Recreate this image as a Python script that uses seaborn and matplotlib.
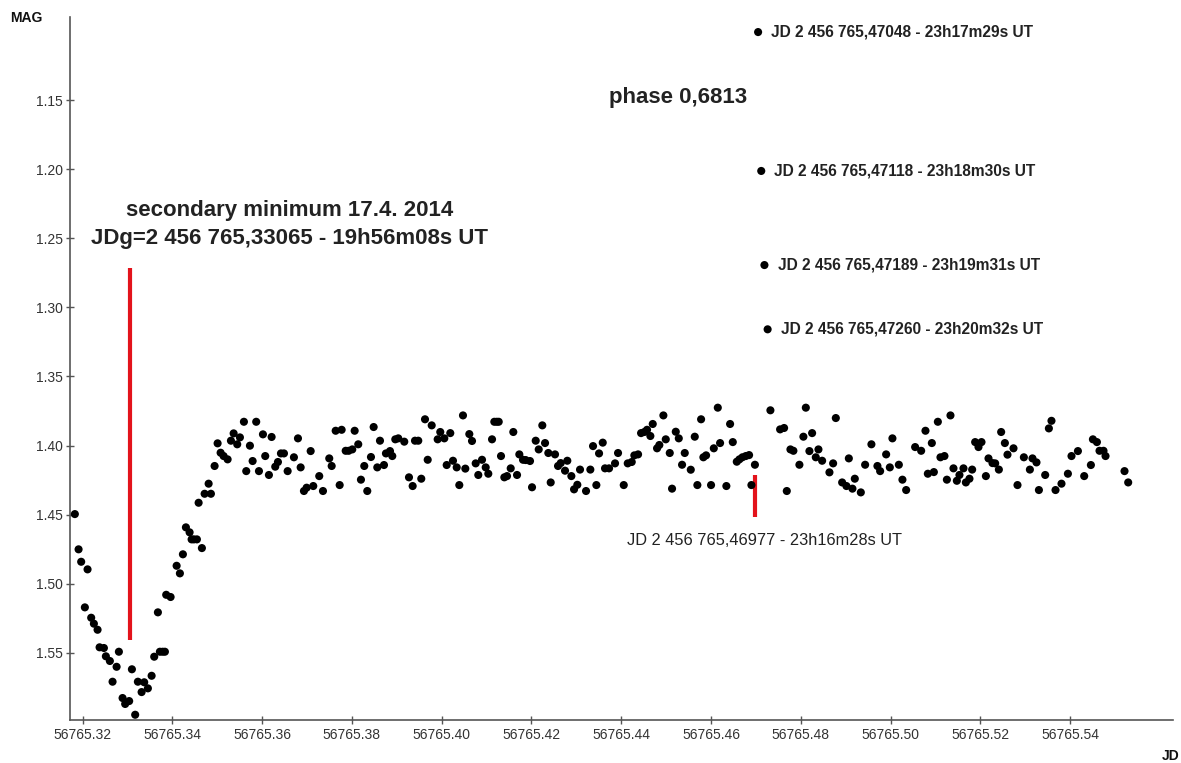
import numpy as np
import pandas as pd
import matplotlib
matplotlib.use("Agg")
import matplotlib.pyplot as plt
from matplotlib.ticker import FormatStrFormatter
import seaborn as sns

# ---- observations: Julian date (MJD) and magnitude ----
JD0 = 56765.0
jd_frac = [
    0.31828, 0.31911, 0.31969, 0.32051, 0.32111, 0.32192, 0.32252, 0.32334, 0.32379, 0.32475,
    0.32519, 0.32608, 0.32668, 0.32758, 0.32809, 0.32891, 0.32949, 0.33038, 0.33099, 0.33172,
    0.33232, 0.33315, 0.33373, 0.33455, 0.33538, 0.33596, 0.33678, 0.33722, 0.33783, 0.33834,
    0.33863, 0.33961, 0.34095, 0.34168, 0.34235, 0.34302, 0.34384, 0.34429, 0.34480, 0.34547,
    0.34585, 0.34658, 0.34719, 0.34808, 0.34859, 0.34941, 0.35008, 0.35075, 0.35142, 0.35231,
    0.35305, 0.35365, 0.35445, 0.35505, 0.35594, 0.35646, 0.35728, 0.35788, 0.35868, 0.35929,
    0.36018, 0.36069, 0.36151, 0.36211, 0.36292, 0.36352, 0.36419, 0.36486, 0.36568, 0.36708,
    0.36798, 0.36858, 0.36931, 0.36991, 0.37081, 0.37139, 0.37272, 0.37355, 0.37495, 0.37549,
    0.37638, 0.37727, 0.37771, 0.37861, 0.37927, 0.38008, 0.38061, 0.38141, 0.38201, 0.38275,
    0.38342, 0.38424, 0.38484, 0.38565, 0.38625, 0.38714, 0.38758, 0.38848, 0.38899, 0.38966,
    0.39033, 0.39166, 0.39271, 0.39353, 0.39405, 0.39478, 0.39545, 0.39628, 0.39688, 0.39777,
    0.39910, 0.39968, 0.40058, 0.40111, 0.40191, 0.40251, 0.40334, 0.40392, 0.40474, 0.40526,
    0.40615, 0.40675, 0.40757, 0.40815, 0.40898, 0.40980, 0.41038, 0.41121, 0.41172, 0.41225,
    0.41270, 0.41321, 0.41395, 0.41455, 0.41537, 0.41595, 0.41678, 0.41729, 0.41811, 0.41871,
    0.41967, 0.42012, 0.42094, 0.42161, 0.42241, 0.42302, 0.42375, 0.42428, 0.42524, 0.42591,
    0.42651, 0.42747, 0.42798, 0.42888, 0.42948, 0.43021, 0.43081, 0.43215, 0.43311, 0.43371,
    0.43445, 0.43505, 0.43587, 0.43638, 0.43728, 0.43861, 0.43928, 0.44055, 0.44144, 0.44233,
    0.44291, 0.44374, 0.44441, 0.44514, 0.44574, 0.44648, 0.44701, 0.44797, 0.44848, 0.44938,
    0.44991, 0.45080, 0.45131, 0.45214, 0.45281, 0.45354, 0.45414, 0.45548, 0.45637, 0.45695,
    0.45778, 0.45829, 0.45889, 0.46000, 0.46061, 0.46150, 0.46201, 0.46341, 0.46424, 0.46484,
    0.46573, 0.46631, 0.46698, 0.46774, 0.46847, 0.46899, 0.46977, 0.47048, 0.47118, 0.47189,
    0.47260, 0.47322, 0.47538, 0.47627, 0.47687, 0.47768, 0.47834, 0.47968, 0.48057, 0.48111,
    0.48191, 0.48251, 0.48333, 0.48392, 0.48474, 0.48637, 0.48719, 0.48779, 0.48920, 0.49016,
    0.49069, 0.49149, 0.49202, 0.49336, 0.49432, 0.49572, 0.49706, 0.49766, 0.49900, 0.49982,
    0.50040, 0.50183, 0.50263, 0.50346, 0.50546, 0.50680, 0.50776, 0.50829, 0.50918, 0.50963,
    0.51052, 0.51110, 0.51199, 0.51253, 0.51333, 0.51400, 0.51475, 0.51533, 0.51623, 0.51676,
    0.51756, 0.51816, 0.51883, 0.51957, 0.52024, 0.52122, 0.52180, 0.52269, 0.52329, 0.52411,
    0.52462, 0.52545, 0.52603, 0.52737, 0.52826, 0.52968, 0.53102, 0.53160, 0.53249, 0.53303,
    0.53443, 0.53525, 0.53583, 0.53673, 0.53806, 0.53949, 0.54029, 0.54172, 0.54312, 0.54461,
    0.54506, 0.54595, 0.54653, 0.54742, 0.54787, 0.55210, 0.55292,
]
mag = [
    1.4496, 1.4751, 1.4841, 1.5171, 1.4896, 1.5246, 1.5289, 1.5333, 1.5460, 1.5465,
    1.5525, 1.5559, 1.5709, 1.5601, 1.5492, 1.5827, 1.5870, 1.5849, 1.5619, 1.5948,
    1.5709, 1.5784, 1.5713, 1.5757, 1.5666, 1.5528, 1.5207, 1.5492, 1.5492, 1.5492,
    1.5080, 1.5096, 1.4870, 1.4925, 1.4787, 1.4592, 1.4628, 1.4679, 1.4679, 1.4679,
    1.4414, 1.4742, 1.4349, 1.4276, 1.4349, 1.4148, 1.3984, 1.4052, 1.4076, 1.4100,
    1.3965, 1.3912, 1.3991, 1.3941, 1.3828, 1.4185, 1.4001, 1.4112, 1.3828, 1.4185,
    1.3919, 1.4076, 1.4213, 1.3938, 1.4153, 1.4119, 1.4057, 1.4057, 1.4185, 1.4085,
    1.3948, 1.4158, 1.4329, 1.4305, 1.4040, 1.4293, 1.4221, 1.4329, 1.4093, 1.4148,
    1.3893, 1.4286, 1.3886, 1.4038, 1.4038, 1.4028, 1.3893, 1.3991, 1.4247, 1.4148,
    1.4329, 1.4083, 1.3866, 1.4158, 1.3965, 1.4141, 1.4057, 1.4040, 1.4076, 1.3955,
    1.3948, 1.3972, 1.4230, 1.4293, 1.3965, 1.3965, 1.4240, 1.3810, 1.4103, 1.3854,
    1.3955, 1.3902, 1.3948, 1.4141, 1.3910, 1.4110, 1.4158, 1.4286, 1.3782, 1.4167,
    1.3917, 1.3967, 1.4129, 1.4213, 1.4103, 1.4158, 1.4204, 1.3955, 1.3828, 1.3828,
    1.3828, 1.4076, 1.4230, 1.4221, 1.4165, 1.3902, 1.4213, 1.4064, 1.4103, 1.4105,
    1.4112, 1.4302, 1.3965, 1.4028, 1.3854, 1.3982, 1.4054, 1.4267, 1.4064, 1.4148,
    1.4127, 1.4182, 1.4110, 1.4221, 1.4317, 1.4284, 1.4174, 1.4329, 1.4174, 1.4004,
    1.4286, 1.4057, 1.3979, 1.4165, 1.4165, 1.4129, 1.4054, 1.4286, 1.4129, 1.4119,
    1.4071, 1.4064, 1.3910, 1.3902, 1.3886, 1.3931, 1.3844, 1.4020, 1.3996, 1.3782,
    1.3955, 1.4054, 1.4312, 1.3900, 1.3948, 1.4139, 1.4054, 1.4175, 1.3936, 1.4286,
    1.3810, 1.4085, 1.4071, 1.4286, 1.4020, 1.3726, 1.3982, 1.4293, 1.3844, 1.3975,
    1.4117, 1.4100, 1.4085, 1.4076, 1.4069, 1.4286, 1.4139, 1.1008, 1.2013, 1.2694,
    1.3159, 1.3745, 1.3883, 1.3873, 1.4329, 1.4028, 1.4038, 1.4139, 1.3936, 1.3726,
    1.4040, 1.3910, 1.4085, 1.4028, 1.4110, 1.4194, 1.4129, 1.3801, 1.4267, 1.4293,
    1.4093, 1.4312, 1.4240, 1.4339, 1.4139, 1.3991, 1.4148, 1.4185, 1.4064, 1.4158,
    1.3948, 1.4139, 1.4247, 1.4322, 1.4011, 1.4038, 1.3893, 1.4204, 1.3982, 1.4192,
    1.3828, 1.4085, 1.4076, 1.4247, 1.3782, 1.4165, 1.4255, 1.4213, 1.4165, 1.4267,
    1.4240, 1.4174, 1.3975, 1.4011, 1.3975, 1.4221, 1.4093, 1.4127, 1.4129, 1.4174,
    1.3902, 1.3982, 1.4066, 1.4020, 1.4286, 1.4085, 1.4174, 1.4093, 1.4122, 1.4322,
    1.4213, 1.3876, 1.3821, 1.4322, 1.4276, 1.4204, 1.4076, 1.4040, 1.4221, 1.4141,
    1.3955, 1.3975, 1.4038, 1.4038, 1.4076, 1.4185, 1.4267,
]

# labelled observations after the red marker
label_jd = [0.47048, 0.47118, 0.47189, 0.47260]
label_text = [
    "JD 2 456 765,47048 - 23h17m29s UT",
    "JD 2 456 765,47118 - 23h18m30s UT",
    "JD 2 456 765,47189 - 23h19m31s UT",
    "JD 2 456 765,47260 - 23h20m32s UT",
]

# red markers: secondary minimum and start of the jump
marker_jd = [0.33065, 0.46977]
marker_top = [1.2718, 1.4213]
marker_bottom = [1.5407, 1.4515]

x_ticks = [0.32, 0.34, 0.36, 0.38, 0.40, 0.42, 0.44, 0.46, 0.48, 0.50, 0.52, 0.54]
y_ticks = [1.15, 1.20, 1.25, 1.30, 1.35, 1.40, 1.45, 1.50, 1.55]

df = pd.DataFrame({"JD": JD0 + np.array(jd_frac), "MAG": mag})

sns.set_style("white")
plt.rcParams["font.family"] = ["Liberation Sans", "DejaVu Sans"]

fig = plt.figure(figsize=(11.81, 7.63), dpi=100)
ax = fig.add_axes([70 / 1181, 43 / 763, 1103 / 1181, 703 / 763])

sns.scatterplot(data=df, x="JD", y="MAG", ax=ax, color="black", s=34,
                edgecolor="none", linewidth=0, zorder=3)

ax.vlines(JD0 + np.array(marker_jd), marker_top, marker_bottom,
          colors="#e3131b", linewidth=3.0, zorder=2)

ax.set_xlim(56765.3172, 56765.5629)
ax.set_ylim(1.5986, 1.0899)
ax.set_xticks(JD0 + np.array(x_ticks))
ax.set_yticks(y_ticks)
ax.xaxis.set_major_formatter(FormatStrFormatter("%.2f"))
ax.yaxis.set_major_formatter(FormatStrFormatter("%.2f"))
ax.set_xlabel("")
ax.set_ylabel("")

for side in ("top", "right"):
    ax.spines[side].set_visible(False)
for side in ("left", "bottom"):
    ax.spines[side].set_color("#555555")
    ax.spines[side].set_linewidth(1.2)
ax.tick_params(axis="both", which="major", direction="inout", length=6,
               width=1.0, color="#555555", labelsize=10, labelcolor="#333333",
               left=True, bottom=True)
ax.tick_params(axis="x", pad=3)
ax.tick_params(axis="y", pad=2)

# axis captions
fig.text(10 / 1181, 1 - 18 / 763, "MAG", fontsize=10, fontweight="bold",
         ha="left", va="center", color="#111111")
fig.text(1180 / 1181, 1 - 756 / 763, "JD", fontsize=10, fontweight="bold",
         ha="right", va="center", color="#111111")

# annotations
ax.text(JD0 + 0.36619, 1.2296, "secondary minimum 17.4. 2014", fontsize=16,
        fontweight="bold", ha="center", va="center", color="#222222")
ax.text(JD0 + 0.36619, 1.2499, "JDg=2 456 765,33065 - 19h56m08s UT", fontsize=16,
        fontweight="bold", ha="center", va="center", color="#222222")
ax.text(JD0 + 0.45265, 1.1478, "phase 0,6813", fontsize=16,
        fontweight="bold", ha="center", va="center", color="#222222")
ax.text(JD0 + 0.47193, 1.4684, "JD 2 456 765,46977 - 23h16m28s UT", fontsize=11.8,
        ha="center", va="center", color="#222222")

for jd, txt in zip(label_jd, label_text):
    m = df.loc[(df["JD"] - (JD0 + jd)).abs().idxmin(), "MAG"]
    ax.annotate(txt, xy=(JD0 + jd, m), xytext=(9.5, 0), textcoords="offset points",
                fontsize=11.2, fontweight="bold", ha="left", va="center",
                color="#222222")

fig.savefig("out.png", dpi=100, facecolor="white")
